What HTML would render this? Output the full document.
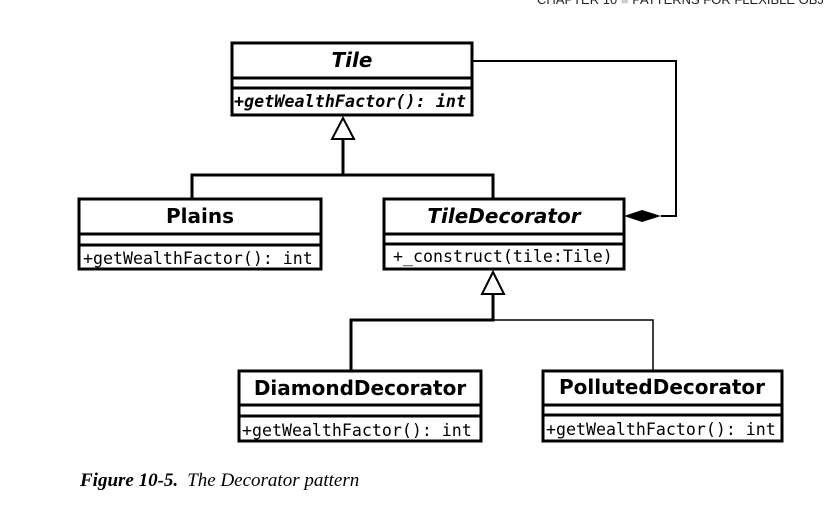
<!DOCTYPE html>
<html><head><meta charset="utf-8"><style>
html,body{margin:0;padding:0;background:#fff;width:824px;height:512px;overflow:hidden}
svg{display:block}
.n{font-family:"DejaVu Sans","Liberation Sans",sans-serif;font-weight:bold;font-size:20px}
.m{font-family:"DejaVu Sans Mono","Liberation Mono",monospace;font-size:16.6px}
</style></head><body>
<svg width="824" height="512" viewBox="0 0 824 512" xmlns="http://www.w3.org/2000/svg">
<text x="537" y="4" font-family="Liberation Sans,sans-serif" font-size="13" fill="#222">CHAPTER 10 <tspan fill="#ccc">■</tspan> PATTERNS FOR FLEXIBLE OBJECT PROGRAMMING</text>
<g fill="none" stroke="#000">
<rect x="232" y="43" width="240" height="72" stroke-width="3"/>
<line x1="232" y1="78" x2="472" y2="78" stroke-width="3"/>
<line x1="232" y1="88" x2="472" y2="88" stroke-width="3"/>
<rect x="79" y="199" width="242" height="70" stroke-width="3"/>
<line x1="79" y1="234" x2="321" y2="234" stroke-width="3"/>
<line x1="79" y1="245" x2="321" y2="245" stroke-width="3"/>
<rect x="384" y="199" width="240" height="70" stroke-width="3"/>
<line x1="384" y1="234" x2="624" y2="234" stroke-width="3"/>
<line x1="384" y1="244" x2="624" y2="244" stroke-width="3"/>
<rect x="239" y="371" width="242" height="70" stroke-width="3"/>
<line x1="239" y1="405" x2="481" y2="405" stroke-width="3"/>
<line x1="239" y1="416" x2="481" y2="416" stroke-width="3"/>
<rect x="543" y="371" width="239" height="70" stroke-width="3"/>
<line x1="543" y1="405" x2="782" y2="405" stroke-width="3"/>
<line x1="543" y1="415" x2="782" y2="415" stroke-width="3"/>
<polygon points="343,118 332,139 354,139" stroke-width="2"/>
<polyline points="343,139 343,175 192,175 192,199" stroke-width="3"/>
<polyline points="343,175 493,175 493,199" stroke-width="3"/>
<polygon points="493,272 482,294 504,294" stroke-width="2"/>
<polyline points="493,294 493,320 351,320 351,371" stroke-width="3"/>
<polyline points="493,320 653,320 653,371" stroke-width="1.5"/>
<polyline points="472,61 676,61 676,216 661,216" stroke-width="2"/>
</g>
<polygon points="624,216 642,210 661,216 642,222" fill="#000"/>
<g text-anchor="middle">
<text class="n" x="352" y="67" font-style="italic">Tile</text>
<text class="n" x="200" y="223">Plains</text>
<text class="n" x="504" y="223" font-style="italic">TileDecorator</text>
<text class="n" x="360" y="395">DiamondDecorator</text>
<text class="n" x="662" y="394">PollutedDecorator</text>
</g>
<text class="m" x="234" y="107" font-style="italic" font-weight="bold" textLength="232">+getWealthFactor(): int</text>
<text class="m" x="83" y="264">+getWealthFactor(): int</text>
<text class="m" x="393" y="262">+_construct(tile:Tile)</text>
<text class="m" x="242" y="436">+getWealthFactor(): int</text>
<text class="m" x="546" y="435">+getWealthFactor(): int</text>
<text x="80" y="486" font-family="Liberation Serif,serif" font-size="19" font-style="italic"><tspan font-weight="bold">Figure 10-5.</tspan><tspan dx="9">The Decorator pattern</tspan></text>
</svg>
</body></html>
